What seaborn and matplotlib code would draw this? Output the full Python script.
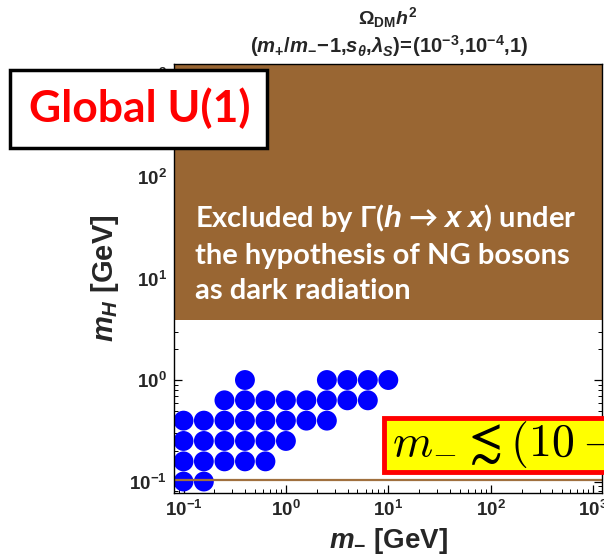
import matplotlib
matplotlib.use("Agg")
import matplotlib.pyplot as plt
import matplotlib.ticker as mticker
from matplotlib.patches import Rectangle
import numpy as np
import pandas as pd
import seaborn as sns

# Parameter-scan points that give the observed relic abundance, one list per m_H row (GeV)
mH_rows = [1.0, 0.631, 0.398, 0.251, 0.158, 0.100]
m_minus_rows = [
    [0.398, 2.512, 3.981, 6.310, 10.0],
    [0.251, 0.398, 0.631, 1.0, 1.585, 2.512, 3.981, 6.310],
    [0.100, 0.158, 0.251, 0.398, 0.631, 1.0, 1.585, 2.512],
    [0.100, 0.158, 0.251, 0.398, 0.631, 1.0],
    [0.100, 0.158, 0.251, 0.398, 0.631],
    [0.100, 0.158],
]

# Exclusion from the invisible Higgs width (NG bosons as dark radiation)
excluded_mH_min = 3.9
# Lower bound on m_H drawn as a horizontal line
mH_line = 0.104

x_ticks = [1e-1, 1e0, 1e1, 1e2, 1e3]
y_ticks = [1e-1, 1e0, 1e1, 1e2, 1e3]

df = pd.DataFrame({
    "m_minus": [m for row in m_minus_rows for m in row],
    "m_H": [h for h, row in zip(mH_rows, m_minus_rows) for _ in row],
})

sns.set_theme(style="white")
plt.rcParams.update({
    "font.family": ["Liberation Sans", "DejaVu Sans"],
    "font.weight": "bold",
    "mathtext.fontset": "custom",
    "mathtext.rm": "Liberation Sans:bold",
    "mathtext.bf": "Liberation Sans:bold",
    "mathtext.it": "Liberation Sans:bold:italic",
    "mathtext.sf": "Liberation Sans:bold",
    "axes.edgecolor": "black",
    "axes.linewidth": 1.0,
})

brown = "#996633"


def pow10_label(v, pos):
    e = int(round(np.log10(v)))
    return r"$\mathbf{10^{%d}}$" % e


fig = plt.figure(figsize=(6.04, 5.58), dpi=100)
W, H = 604, 558
ax = fig.add_axes([174 / W, 1 - 493 / H, (602 - 174) / W, (493 - 64) / H])
ax.set_xscale("log")
ax.set_yscale("log")
ax.set_xlim(10 ** -1.093, 10 ** 3.087)
ax.set_ylim(10 ** -1.113, 10 ** 3.113)

ax.axhspan(excluded_mH_min, 10 ** 3.2, color=brown, lw=0, zorder=1)

sns.scatterplot(data=df, x="m_minus", y="m_H", ax=ax, color="#0000FF",
                s=205, edgecolor="none", linewidth=0, legend=False, zorder=3)

ax.axhline(mH_line, color="#A0703F", lw=1.6, zorder=4)

ax.xaxis.set_major_locator(mticker.FixedLocator(x_ticks))
ax.yaxis.set_major_locator(mticker.FixedLocator(y_ticks))
ax.xaxis.set_major_formatter(mticker.FuncFormatter(pow10_label))
ax.yaxis.set_major_formatter(mticker.FuncFormatter(pow10_label))
for axis in (ax.xaxis, ax.yaxis):
    axis.set_minor_locator(mticker.LogLocator(base=10, subs=np.arange(2, 10), numticks=20))
    axis.set_minor_formatter(mticker.NullFormatter())
ax.tick_params(which="both", direction="in", top=True, right=True, bottom=True, left=True,
               color="black", zorder=5)
ax.tick_params(which="major", length=6, width=0.9, labelsize=13.5, pad=5)
ax.tick_params(which="minor", length=3, width=0.7)
for sp in ax.spines.values():
    sp.set_zorder(6)

ax.set_xlabel(r"$m_{-}$ [GeV]", fontsize=20, fontweight="bold", labelpad=4)
ax.set_ylabel(r"$m_{H}$ [GeV]", fontsize=21, fontweight="bold", labelpad=6)

fig.text(388 / W, 1 - 18 / H, r"$\Omega_{\mathrm{DM}}h^{2}$", ha="center", va="center", fontsize=14)
fig.text(389 / W, 1 - 46 / H,
         r"$(m_{+}/m_{-}\!-\!1{,}s_{\theta}{,}\lambda_{S})\!=\!(10^{-3}{,}10^{-4}{,}1)$",
         ha="center", va="center", fontsize=14.6)

# Exclusion label in the brown band
ax.text(195 / W, 1 - 253 / H,
        "Excluded by Γ($h$ → $x$ $x$) under\nthe hypothesis of NG bosons\nas dark radiation",
        transform=fig.transFigure, ha="left", va="center", color="white",
        fontsize=21, fontweight="bold", family=["Lato", "DejaVu Sans"], linespacing=1.45,
        zorder=7)

# "Global U(1)" label box
fig.patches.append(Rectangle((10 / W, 1 - 148 / H), 257 / W, 78 / H, transform=fig.transFigure,
                             facecolor="white", edgecolor="black", lw=2.5, zorder=10))
fig.text(140 / W, 1 - 108 / H, "Global U(1)", ha="center", va="center", color="#FF0000",
         fontsize=32, fontweight="bold", family=["Lato", "DejaVu Sans"], zorder=11)

# Upper bound on m_-
fig.patches.append(Rectangle((384 / W, 1 - 472 / H), 240 / W, 54 / H, transform=fig.transFigure,
                             facecolor="#FFFF00", edgecolor="#FF0000", lw=3.5, zorder=10))
fig.text(392 / W, 1 - 445 / H, r"$m_{-} \lesssim (10-20)\,\mathrm{GeV}$", ha="left", va="center",
         color="black", fontsize=33, math_fontfamily="cm", zorder=11)

fig.savefig("out.png", dpi=100)
